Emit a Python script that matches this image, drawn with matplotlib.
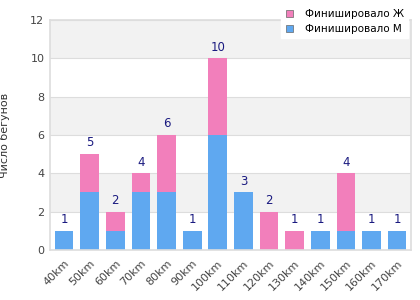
import matplotlib
matplotlib.use('Agg')
import matplotlib.pyplot as plt
import numpy as np

# ----- Data -----
distances = ['40km', '50km', '60km', '70km', '80km', '90km', '100km',
             '110km', '120km', '130km', '140km', '150km', '160km', '170km']
finished_m = [1, 3, 1, 3, 3, 1, 6, 3, 0, 0, 1, 1, 1, 1]
finished_f = [0, 2, 1, 1, 3, 0, 4, 0, 2, 1, 0, 3, 0, 0]

col_m = '#5fa8f0'
col_f = '#f27fbb'

fig = plt.figure(figsize=(4.2, 3.0), dpi=100)
ax = fig.add_axes([0.119, 0.1667, 0.86, 0.7667])

x = np.arange(len(distances))
m = np.array(finished_m)
f = np.array(finished_f)
total = m + f

# ----- Alternating background bands -----
for lo in range(0, 12, 2):
    if (lo // 2) % 2 == 1:
        ax.axhspan(lo, lo + 2, color='#f2f2f2', zorder=0, lw=0)
for yv in range(0, 13, 2):
    ax.axhline(yv, color='#dddddd', lw=0.8, zorder=1)

ax.bar(x, m, width=0.73, color=col_m, label='Финишировало М', zorder=2)
ax.bar(x, f, width=0.73, bottom=m, color=col_f, label='Финишировало Ж', zorder=2)

for xi, t in zip(x, total):
    ax.text(xi, t + 0.25, str(t), ha='center', va='bottom',
            fontsize=8.5, color='#1a1a80', zorder=3)

ax.set_xlim(-0.55, len(distances) - 0.45)
ax.set_ylim(0, 12)
ax.set_yticks(range(0, 13, 2))
ax.set_xticks(x)
ax.set_xticklabels(distances, rotation=45, ha='right', rotation_mode='anchor')
ax.tick_params(axis='both', length=0, labelsize=8, labelcolor='#444444', pad=4)
ax.tick_params(axis='x', pad=6)
for s in ax.spines.values():
    s.set_color('#dddddd')
    s.set_linewidth(1.2)

fig.text(0.0, 0.55, 'Число бегунов', rotation=90, va='center', ha='left',
         fontsize=8, color='#333333')

handles, labels = ax.get_legend_handles_labels()
leg = fig.legend(handles[::-1], labels[::-1], loc='upper right',
                 bbox_to_anchor=(0.985, 1.0), frameon=True, fontsize=7.5,
                 handlelength=0.7, handleheight=0.7, handletextpad=1.2,
                 labelspacing=0.45, borderpad=0.4, fancybox=False)
leg.get_frame().set_edgecolor('white')
leg.get_frame().set_facecolor('white')
leg.get_frame().set_alpha(1)
for h in leg.legend_handles:
    h.set_edgecolor('#666666')
    h.set_linewidth(0.5)

fig.savefig('out.png', dpi=100)
